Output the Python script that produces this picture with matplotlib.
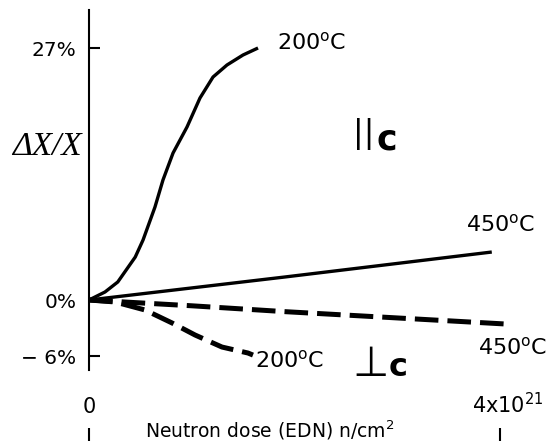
import matplotlib
matplotlib.use("Agg")
import matplotlib.pyplot as plt
import matplotlib.transforms as mtransforms

plt.rcParams['font.family'] = ['DejaVu Sans']
plt.rcParams['lines.scale_dashes'] = False

# Data (dose in units of 1e21 n/cm^2, strain in %)
par200_x = [0.0, 0.156, 0.28, 0.45, 0.526, 0.642, 0.720, 0.818, 0.954, 1.080, 1.207, 1.343, 1.499, 1.645]
par200_y = [0.0, 0.86, 1.93, 4.6, 6.43, 9.96, 12.86, 15.75, 18.54, 21.64, 23.89, 25.18, 26.25, 27.0]
par450_x = [0.0, 1.91, 3.92]
par450_y = [0.0, 2.47, 5.14]
perp200_x = [0.0, 0.253, 0.545, 0.808, 1.032, 1.294, 1.547, 1.596]
perp200_y = [0.0, -0.21, -1.07, -2.46, -3.75, -5.04, -5.68, -5.9]
perp450_x = [0.0, 1.0, 1.91, 4.05]
perp450_y = [0.0, -0.62, -1.25, -2.57]

yticks = [-6, 0, 27]
ytick_labels = ['\u2212 6%', '0%', '27%']
xticks = [0, 4]
xtick_labels = ['0', r'4x10$^{21}$']

W, H = 547, 441
fig = plt.figure(figsize=(W / 100, H / 100), dpi=100)
ax = fig.add_axes([0, 0, 1, 1])

# pixel mapping: x=0 -> px 89, x=4 -> px 500; y=0 -> py 300, y=27 -> py 48
sx = (500 - 89) / 4.0
sy = (300 - 48) / 27.0
ax.set_xlim(-89 / sx, (W - 89) / sx)
ax.set_ylim(-(H - 300) / sy, 300 / sy)

def px2y(py):
    return (300 - py) / sy

def px2x(px):
    return (px - 89) / sx

kw_solid = dict(color='black', lw=2.4, solid_capstyle='butt', solid_joinstyle='round')
kw_dash = dict(color='black', lw=3.6, dashes=(17, 6.5), dash_capstyle='butt', dash_joinstyle='round')
ax.plot(par200_x, par200_y, **kw_solid)
ax.plot(par450_x, par450_y, **kw_solid)
ax.plot(perp200_x, perp200_y, **kw_dash)
ax.plot(perp450_x, perp450_y, **kw_dash)

for s in ['right', 'bottom']:
    ax.spines[s].set_visible(False)
ax.spines['left'].set_position(('data', 0))
ax.spines['left'].set_bounds(px2y(370), px2y(10))
ax.spines['left'].set_linewidth(1.5)
ax.spines['top'].set_position(('data', px2y(428)))
ax.spines['top'].set_visible(False)

ax.set_yticks(yticks)
ax.set_yticklabels(ytick_labels)
ax.tick_params(axis='y', direction='in', length=8, width=1.5, pad=9, labelsize=14.5)
ax.yaxis.get_major_ticks()[1].tick1line.set_visible(False)

ax.xaxis.set_ticks_position('top')
ax.set_xticks(xticks)
ax.set_xticklabels(xtick_labels)
ax.tick_params(axis='x', direction='in', length=10, width=1.5, pad=8, labelsize=15,
               top=True, bottom=False, labeltop=True, labelbottom=False)
lab = ax.get_xticklabels()[1]
lab.set_transform(lab.get_transform() + mtransforms.ScaledTranslation(8 / 100, 0, fig.dpi_scale_trans))

fs = 16
ax.text(px2x(277), px2y(49), r'200$^{\rm o}$C', fontsize=fs, ha='left', va='baseline')
ax.text(px2x(466), px2y(231), r'450$^{\rm o}$C', fontsize=fs, ha='left', va='baseline')
ax.text(px2x(478), px2y(354), r'450$^{\rm o}$C', fontsize=fs, ha='left', va='baseline')
ax.text(px2x(255), px2y(367), r'200$^{\rm o}$C', fontsize=fs, ha='left', va='baseline')

ax.text(px2x(270), px2y(438), r'Neutron dose (EDN) n/cm$^2$', fontsize=13.5,
        ha='center', va='baseline')

ax.text(px2x(82), px2y(155), 'ΔX/X', fontsize=24, family='Liberation Serif',
        style='italic', ha='right', va='baseline')

ax.text(px2x(353), px2y(150), '||', fontsize=23, ha='left', va='bottom')
ax.text(px2x(376), px2y(150), 'c', fontsize=25, fontweight='bold', ha='left', va='baseline')
ax.text(px2x(352), px2y(376), '\u22a5', fontsize=30, ha='left', va='baseline')
ax.text(px2x(389), px2y(376), 'c', fontsize=23, fontweight='bold', ha='left', va='baseline')

fig.savefig('out.png', dpi=100)
